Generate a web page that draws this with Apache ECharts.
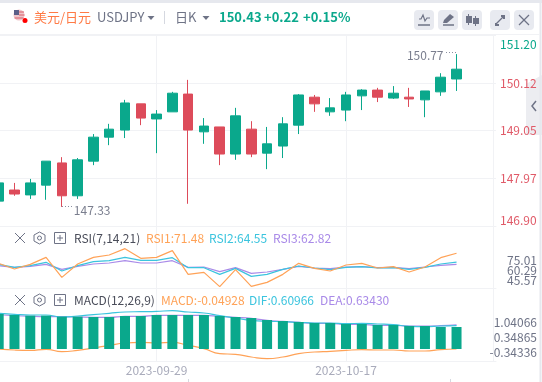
<!DOCTYPE html>
<html>
<head>
<meta charset="utf-8">
<style>
html, body { margin: 0; padding: 0; background: #fff; }
#main { width: 542px; height: 382px; }
</style>
<script src="https://cdn.jsdelivr.net/npm/echarts@6/dist/echarts.min.js"></script>
</head>
<body>
<div id="main"></div>
<script>
const dates = ['2023-09-15','2023-09-18','2023-09-19','2023-09-20','2023-09-21','2023-09-22','2023-09-25','2023-09-26','2023-09-27','2023-09-28',
    '2023-09-29','2023-10-02','2023-10-03','2023-10-04','2023-10-05','2023-10-06','2023-10-09','2023-10-10','2023-10-11','2023-10-12',
    '2023-10-13','2023-10-16','2023-10-17','2023-10-18','2023-10-19','2023-10-20','2023-10-23','2023-10-24','2023-10-25','2023-10-26'];
// open, close, low, high
const candles = [
    [147.46,147.87,147.46,147.87],[147.71,147.62,147.58,147.87],[147.60,147.87,147.51,147.96],[147.82,148.36,147.49,148.36],
    [148.32,147.58,147.33,148.45],[147.58,148.39,147.51,148.43],[148.36,148.90,148.27,148.97],[148.90,149.08,148.72,149.20],
    [149.06,149.67,148.88,149.74],[149.65,149.33,149.17,149.65],[149.31,149.42,148.54,149.51],[149.47,149.89,149.47,149.92],
    [149.87,149.06,147.40,150.19],[149.02,149.15,148.75,149.33],[149.13,148.52,148.27,149.13],[148.52,149.38,148.39,149.56],
    [149.08,148.52,148.45,149.26],[148.54,148.75,148.18,149.13],[148.70,149.20,148.43,149.35],[149.17,149.85,148.97,149.87],
    [149.80,149.65,149.47,149.85],[149.47,149.56,149.38,149.78],[149.51,149.85,149.26,149.92],[149.83,149.96,149.51,149.98],
    [149.96,149.80,149.69,150.01],[149.78,149.89,149.76,150.05],[149.80,149.76,149.58,150.01],[149.74,149.94,149.35,149.94],
    [149.92,150.25,149.83,150.34],[150.21,150.43,149.94,150.77]
];
const rsi1 = [63.56,59.10,62.78,68.29,52.54,63.04,68.29,70.13,75.11,67.50,68.29,73.54,54.90,56.48,45.19,58.58,45.45,48.60,54.90,63.56,59.62,57.53,62.25,63.56,59.89,60.94,56.74,60.68,68.03,71.48];
const rsi2 = [62.78,60.41,61.73,64.35,57.53,61.73,64.88,65.66,68.29,65.93,65.93,68.03,60.15,60.15,54.90,59.62,53.33,54.90,58.84,61.46,59.89,58.58,60.41,60.94,59.89,60.15,58.84,60.41,63.04,64.55];
const rsi3 = [61.73,60.41,61.20,62.78,58.84,61.20,63.04,63.83,65.66,63.83,63.83,65.66,60.41,60.68,57.00,60.15,55.69,56.74,58.84,61.20,59.89,59.36,60.68,60.94,60.15,60.41,59.36,60.68,61.99,62.82];
const macdLine = [-0.049,-0.077,-0.087,-0.058,-0.124,-0.087,-0.021,0.054,0.120,0.139,0.120,0.139,0.054,-0.040,-0.181,-0.200,-0.275,-0.322,-0.275,-0.181,-0.134,-0.115,-0.087,-0.068,-0.077,-0.077,-0.105,-0.105,-0.068,-0.04928];
const dif = [0.958,0.930,0.911,0.911,0.854,0.883,0.920,0.958,0.995,1.005,1.014,1.033,0.995,0.967,0.892,0.826,0.760,0.732,0.723,0.704,0.685,0.685,0.666,0.676,0.657,0.638,0.591,0.581,0.600,0.60966];
const dea = [0.920,0.892,0.873,0.864,0.864,0.854,0.845,0.845,0.873,0.873,0.901,0.901,0.901,0.901,0.873,0.845,0.817,0.760,0.732,0.704,0.676,0.676,0.647,0.647,0.619,0.619,0.600,0.600,0.610,0.6343];
const macdBars = [0.988,0.960,0.941,0.941,0.913,0.913,0.903,0.903,0.932,0.932,0.960,0.960,0.960,0.960,0.932,0.903,0.875,0.819,0.790,0.762,0.734,0.734,0.706,0.706,0.678,0.678,0.649,0.649,0.621,0.621];
const priceTicks = [146.90,147.97,149.05,150.12,151.20];
const rsiOuterTicks = [45.57,75.01];
const rsiMiddleTicks = [60.29];
const macdTicks = [-0.34336,0.34865,1.04066];
const shownDates = ['2023-09-29','2023-10-17'];

const GREEN = '#0aa88c', RED = '#dd4b5a', ORANGE = '#ffa257', CYAN = '#3bc4de', PURPLE = '#a98ae8';
const GRID_LINE = '#f1f2f5', FONT = '"Noto Sans CJK SC", "Noto Sans", sans-serif';
// two empty slots so the plot runs on past the last candle
const categories = dates.concat(['', '']);

function txt(x, y, text, fill, size, weight) {
    return { type: 'text', silent: true, z: 10, style: { x, y, text, fill, font: (weight || 'normal') + ' ' + (size || 12) + 'px ' + FONT, textVerticalAlign: 'middle' } };
}
function seg(x1, y1, x2, y2, stroke, lineWidth, lineDash) {
    return { type: 'line', silent: true, z: 10, shape: { x1, y1, x2, y2 }, style: { stroke, lineWidth: lineWidth || 1, lineDash: lineDash || null } };
}
function box(x, y, width, height, fill, r) {
    return { type: 'rect', silent: true, z: 9, shape: { x, y, width, height, r: r || 0 }, style: { fill } };
}
function tri(cx, cy) {
    return { type: 'polygon', silent: true, z: 10, shape: { points: [[cx - 3.5, cy - 2], [cx + 3.5, cy - 2], [cx, cy + 2]] }, style: { fill: '#6e7386' } };
}
function paneIcons(y) {
    return [
        seg(15, y - 5, 25, y + 5, '#6e7386'), seg(25, y - 5, 15, y + 5, '#6e7386'),
        { type: 'polygon', silent: true, z: 10, shape: { points: [[39.5, y - 6], [45, y - 3], [45, y + 3], [39.5, y + 6], [34, y + 3], [34, y - 3]] }, style: { fill: 'none', stroke: '#6e7386' } },
        { type: 'circle', silent: true, z: 10, shape: { cx: 39.5, cy: y, r: 2 }, style: { fill: 'none', stroke: '#6e7386' } },
        { type: 'rect', silent: true, z: 10, shape: { x: 54.5, y: y - 5.5, width: 11, height: 11 }, style: { fill: 'none', stroke: '#6e7386' } },
        seg(57, y, 63, y, '#6e7386'), seg(60, y - 3, 60, y + 3, '#6e7386')
    ];
}

const chrome = [
    seg(0, 1.5, 542, 1.5, '#e6e8ee', 3),
    seg(540.5, 0, 540.5, 382, '#e6e8ee', 2),
    seg(0, 34.5, 540, 34.5, GRID_LINE),
    seg(493.5, 35, 493.5, 361, GRID_LINE),
    // flag
    { type: 'circle', silent: true, z: 10, shape: { cx: 19, cy: 15, r: 5.5 }, style: { fill: '#eec5c9' } },
    { type: 'rect', silent: true, z: 10, shape: { x: 14, y: 10, width: 5, height: 5 }, style: { fill: '#5a5f88' } },
    seg(19, 12, 24, 12, '#d9606c'), seg(19, 15, 24.5, 15, '#d9606c'), seg(14.5, 18, 23.5, 18, '#d9606c'),
    { type: 'circle', silent: true, z: 11, shape: { cx: 25, cy: 20.5, r: 2.5 }, style: { fill: '#f00' } },
    // header
    txt(34, 17, '美元/日元', '#ff7a45', 13),
    txt(97, 17, 'USDJPY', '#6e7386', 13),
    tri(151, 18),
    seg(164.5, 11, 164.5, 24, '#d5d8e0'),
    txt(175, 17, '日K', '#6e7386', 13),
    tri(206, 18),
    txt(219, 17, '150.43', GREEN, 13, 'bold'),
    txt(264, 17, '+0.22', GREEN, 13, 'bold'),
    txt(303, 17, '+0.15%', GREEN, 13, 'bold'),
    // toolbar buttons
    box(414, 10, 20, 20, '#e8eaf0', 4), box(438, 10, 20, 20, '#e8eaf0', 4), box(462, 10, 20, 20, '#e8eaf0', 4),
    box(490, 10, 20, 20, '#e8eaf0', 4), box(514, 10, 20, 20, '#e8eaf0', 4),
    { type: 'polyline', silent: true, z: 10, shape: { points: [[419, 19], [421, 19], [423, 15], [425, 21], [427, 18], [430, 18]] }, style: { stroke: '#6e7386', fill: 'none', lineWidth: 1.2 } },
    seg(418, 25, 430, 25, '#6e7386', 1.5),
    { type: 'polygon', silent: true, z: 10, shape: { points: [[443, 23], [444, 20], [450, 14], [454, 17], [447, 23]] }, style: { fill: '#6e7386' } },
    seg(443, 25, 454, 25, '#6e7386', 1.5),
    seg(468.5, 14, 468.5, 25, '#6e7386'), box(466, 16, 6, 7, '#6e7386'),
    seg(475.5, 16, 475.5, 26, '#6e7386'), box(473, 18, 6, 6, '#6e7386'),
    seg(496, 24, 504, 16, '#6e7386', 1.2), box(501, 15, 4, 2, '#6e7386'), box(503, 15, 2, 4, '#6e7386'),
    box(495, 23, 2, 3, '#6e7386'), box(495, 24, 4, 2, '#6e7386'),
    seg(519, 15, 529, 25, '#6e7386', 1.2), seg(529, 15, 519, 25, '#6e7386', 1.2),
    // collapse tab, under the axis labels
    { type: 'polygon', silent: true, z: -1, shape: { points: [[542, 75], [526, 84], [526, 135], [542, 135]] }, style: { fill: '#ecedf1' } },
    { type: 'polyline', silent: true, z: 10, shape: { points: [[536, 101], [532, 106], [536, 111]] }, style: { stroke: '#6e7386', fill: 'none', lineWidth: 1.5 } },
    // high / low leaders
    seg(446, 52.5, 456, 52.5, '#8a8fa0', 1, [1, 2]),
    seg(62, 206.5, 73, 206.5, '#8a8fa0', 1, [1, 2]),
    // pane legends
    ...paneIcons(238),
    txt(74, 238, 'RSI(7,14,21)', '#4a4d5a'),
    txt(146, 238, 'RSI1:71.48', ORANGE),
    txt(209, 238, 'RSI2:64.55', CYAN),
    txt(273, 238, 'RSI3:62.82', PURPLE),
    ...paneIcons(300),
    txt(74, 300, 'MACD(12,26,9)', '#4a4d5a'),
    txt(161, 300, 'MACD:-0.04928', ORANGE),
    txt(249, 300, 'DIF:0.60966', CYAN),
    txt(320, 300, 'DEA:0.63430', PURPLE),
    seg(188.5, 379, 188.5, 382, '#d5d8e0'),
    seg(450.5, 379, 450.5, 382, '#d5d8e0')
];

function xAxisFor(gridIndex, withLabels) {
    return {
        type: 'category',
        gridIndex,
        data: categories,
        axisLine: { show: true, onZero: false, lineStyle: { color: GRID_LINE } },
        axisTick: { show: false },
        axisLabel: {
            show: withLabels,
            color: '#a9abbb',
            fontSize: 12,
            fontFamily: FONT,
            margin: 3,
            interval: (i, v) => shownDates.includes(v)
        },
        splitLine: {
            show: true,
            alignWithLabel: true,
            interval: (i, v) => shownDates.includes(v),
            lineStyle: { color: GRID_LINE }
        }
    };
}
// value axis that only places the tick labels, the real series sit on other axes
function labelAxis(gridIndex, min, max, ticks, digits) {
    return {
        type: 'value',
        gridIndex,
        position: 'right',
        min,
        max,
        splitLine: { show: false },
        axisLine: { show: false },
        axisTick: { show: false },
        axisLabel: {
            color: '#6e7386',
            fontSize: 12,
            fontFamily: FONT,
            align: 'right',
            margin: 41,
            customValues: ticks,
            formatter: v => v.toFixed(digits)
        }
    };
}
function hiddenAxis(gridIndex, min, max) {
    return { type: 'value', gridIndex, position: 'right', min, max, show: false, splitLine: { show: false } };
}
function lineSeries(name, data, color, xAxisIndex, yAxisIndex, smooth) {
    return { name, type: 'line', data, xAxisIndex, yAxisIndex, smooth, symbol: 'none', animation: false, z: 2, lineStyle: { color, width: 1.2 } };
}
function noteAt(name, index, value, position, offset) {
    return {
        name,
        coord: [dates[index], value],
        value,
        symbol: 'circle',
        symbolSize: 0,
        label: { show: true, position, offset, formatter: value.toFixed(2), color: '#7a7e8e', fontSize: 12, fontFamily: FONT }
    };
}

let option = {
    animation: false,
    graphic: { elements: chrome },
    grid: [
        { left: -9.2, top: 35, right: 46, height: 191, outerBoundsMode: 'none' },
        { left: -9.2, top: 227, right: 46, height: 61, outerBoundsMode: 'none' },
        { left: -9.2, top: 289, right: 46, height: 72, outerBoundsMode: 'none' }
    ],
    xAxis: [xAxisFor(0, false), xAxisFor(1, false), xAxisFor(2, true)],
    yAxis: [
        {
            type: 'value',
            gridIndex: 0,
            position: 'right',
            min: priceTicks[0],
            max: priceTicks[4],
            axisLine: { show: false },
            axisTick: { show: false, customValues: priceTicks },
            splitLine: { show: true, lineStyle: { color: GRID_LINE } },
            axisLabel: {
                customValues: priceTicks,
                margin: 4,
                padding: [3, 0, 0, 0],
                fontSize: 12,
                fontFamily: FONT,
                verticalAlignMinLabel: 'bottom',
                verticalAlignMaxLabel: 'top',
                formatter: v => v.toFixed(2),
                color: v => (v > 151 ? GREEN : '#e05a68')
            }
        },
        hiddenAxis(1, 44.15, 92.18),
        // the RSI labels overlap each other, so the middle one gets its own axis or it is dropped
        labelAxis(1, 33.37, 126.4, rsiOuterTicks, 2),
        labelAxis(1, 33.37, 126.4, rsiMiddleTicks, 2),
        hiddenAxis(2, -0.388, 1.645),
        hiddenAxis(2, -0.339, 1.694),
        labelAxis(2, -0.750, 2.617, macdTicks, 5)
    ],
    series: [
        {
            type: 'candlestick',
            data: candles,
            xAxisIndex: 0,
            yAxisIndex: 0,
            barWidth: 10,
            itemStyle: { color: GREEN, color0: RED, borderColor: GREEN, borderColor0: RED, borderWidth: 1 },
            markPoint: {
                silent: true,
                animation: false,
                data: [
                    noteAt('high', 29, 150.77, 'left', [-8, 1]),
                    noteAt('low', 4, 147.33, 'right', [7, 4])
                ]
            }
        },
        lineSeries('RSI3', rsi3, PURPLE, 1, 1, false),
        lineSeries('RSI2', rsi2, CYAN, 1, 1, false),
        lineSeries('RSI1', rsi1, ORANGE, 1, 1, false),
        lineSeries('DEA', dea, PURPLE, 2, 4, true),
        lineSeries('DIF', dif, CYAN, 2, 4, true),
        lineSeries('MACD', macdLine, ORANGE, 2, 4, true),
        { name: 'BAR', type: 'bar', data: macdBars, xAxisIndex: 2, yAxisIndex: 5, barWidth: 10, z: 3, itemStyle: { color: GREEN } }
    ]
};

let myChart = echarts.init(document.getElementById('main'), null, { renderer: 'canvas' });
myChart.setOption(option);
</script>
</body>
</html>
